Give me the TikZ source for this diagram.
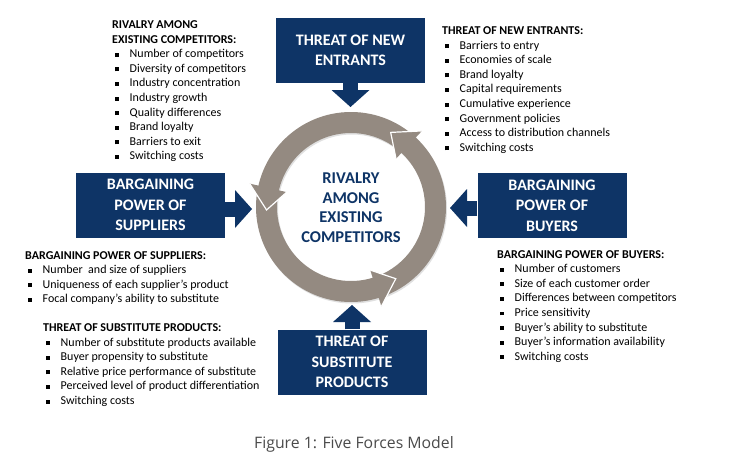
\documentclass[tikz,border=0pt]{standalone}
\usepackage{fontspec}
\setmainfont{Carlito}
\newfontfamily\capfont{Open Sans}
\usetikzlibrary{arrows.meta,calc}
\definecolor{navy}{RGB}{14,52,102}
\definecolor{ringgray}{RGB}{148,138,129}
\definecolor{capgray}{RGB}{75,75,75}
\newcommand{\bul}{\raisebox{1.0pt}{\rule{3.9pt}{3.9pt}}}
\newcommand{\itm}[1]{\hspace*{3pt}\bul\hspace{10.6pt}#1}
\tikzset{
  force/.style={fill=navy, text=white, font=\fontsize{16}{20.5}\selectfont\bfseries,
    align=center, minimum width=149pt, minimum height=65pt, inner sep=0pt},
  listtxt/.style={anchor=base west, inner sep=0pt, font=\fontsize{12}{14.6}\selectfont},
  farrow/.style={draw=navy, line width=15pt,
    -{Triangle[width=38pt,length=17pt,line width=0pt]}},
  headside/.style={draw=white, line width=1.2pt, line join=miter}
}
\begin{document}
\begin{tikzpicture}[x=1pt,y=-1pt]
\useasboundingbox (0,0) rectangle (737,471);
\fill[white] (0,0) rectangle (737,471);

% ring
\coordinate (c) at (351,207);
\fill[black!12, even odd rule] ($(c)+(1pt,-1.5pt)$) circle (95pt) ($(c)+(1pt,-1.5pt)$) circle (74pt);
\fill[ringgray, even odd rule] (c) circle (95pt) (c) circle (74pt);
\foreach \t in {62,182,302}{
  \pgfmathsetmacro{\b}{\t-15}
  \fill[ringgray] ($(c)+(\b:104pt)$) -- ($(c)+(\t:84.5pt)$) -- ($(c)+(\b:66pt)$) -- cycle;
  \draw[headside] ($(c)+(\b:104pt)$) -- ($(c)+(\t:84.5pt)$) -- ($(c)+(\b:66pt)$);
}
\node[font=\fontsize{16.5}{19.5}\selectfont\bfseries, text=navy, align=center] (core) at (351,207.5)
  {RIVALRY\\AMONG\\EXISTING\\COMPETITORS};

% force boxes
\node[force] (new) at (350.5,50.5) {THREAT OF NEW\\ENTRANTS};
\node[force] (sup) at (150.5,205) {BARGAINING\\POWER OF\\SUPPLIERS};
\node[force] (buy) at (552,205.5) {BARGAINING\\POWER OF\\BUYERS};
\node[force] (sub) at (352,362) {THREAT OF\\SUBSTITUTE\\PRODUCTS};

\coordinate (tipN) at (350.5,107);
\coordinate (tipW) at (252,209);
\coordinate (tipE) at (450,208);
\coordinate (tipS) at (352,305);
\draw[farrow] (new.south) -- (tipN);
\draw[farrow] (sup.east |- tipW) -- (tipW);
\draw[farrow] (buy.west |- tipE) -- (tipE);
\draw[farrow] (sub.north) -- (tipS);

% lists
\node[listtxt] (rivlist) at (112,28.5) {\begin{tabular}[t]{@{}l@{}}
\textbf{RIVALRY AMONG}\\
\textbf{EXISTING COMPETITORS:}\\
\itm{Number of competitors}\\
\itm{Diversity of competitors}\\
\itm{Industry concentration}\\
\itm{Industry growth}\\
\itm{Quality differences}\\
\itm{Brand loyalty}\\
\itm{Barriers to exit}\\
\itm{Switching costs}
\end{tabular}};

\node[listtxt] (newlist) at (442,34.5) {\begin{tabular}[t]{@{}l@{}}
\textbf{THREAT OF NEW ENTRANTS:}\\
\itm{Barriers to entry}\\
\itm{Economies of scale}\\
\itm{Brand loyalty}\\
\itm{Capital requirements}\\
\itm{Cumulative experience}\\
\itm{Government policies}\\
\itm{Access to distribution channels}\\
\itm{Switching costs}
\end{tabular}};

\node[listtxt] (suplist) at (25,259) {\begin{tabular}[t]{@{}l@{}}
\textbf{BARGAINING POWER OF SUPPLIERS:}\\
\itm{Number\ \ and size of suppliers}\\
\itm{Uniqueness of each supplier’s product}\\
\itm{Focal company’s ability to substitute}
\end{tabular}};

\node[listtxt] (sublist) at (43,331.5) {\begin{tabular}[t]{@{}l@{}}
\textbf{THREAT OF SUBSTITUTE PRODUCTS:}\\
\itm{Number of substitute products available}\\
\itm{Buyer propensity to substitute}\\
\itm{Relative price performance of substitute}\\
\itm{Perceived level of product differentiation}\\
\itm{Switching costs}
\end{tabular}};

\node[listtxt] (buylist) at (497,258) {\begin{tabular}[t]{@{}l@{}}
\textbf{BARGAINING POWER OF BUYERS:}\\
\itm{Number of customers}\\
\itm{Size of each customer order}\\
\itm{Differences between competitors}\\
\itm{Price sensitivity}\\
\itm{Buyer’s ability to substitute}\\
\itm{Buyer’s information availability}\\
\itm{Switching costs}
\end{tabular}};

\node[font=\capfont\fontsize{15.8}{18}\selectfont, text=capgray] (caption) at (354,444) {Figure 1: Five Forces Model};
\end{tikzpicture}
\end{document}
